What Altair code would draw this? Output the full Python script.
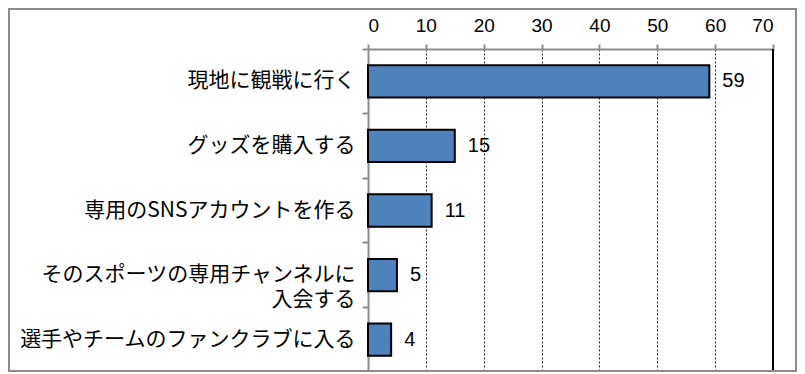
import altair as alt
import pandas as pd

categories = [
    "現地に観戦に行く",
    "グッズを購入する",
    "専用のSNSアカウントを作る",
    "そのスポーツの専用チャンネルに\n入会する",
    "選手やチームのファンクラブに入る",
]
values = [59, 15, 11, 5, 4]
x_ticks = [0, 10, 20, 30, 40, 50, 60, 70]

df = pd.DataFrame({"cat": categories, "val": values})

JP = "Noto Sans CJK JP"
NUM = "Liberation Sans"

x_scale = alt.Scale(domain=[0, 70], nice=False, zero=True)
y_scale = alt.Scale(domain=categories, paddingInner=0, paddingOuter=0)

base = alt.Chart(df)

bars = base.mark_bar(
    color="#4F81BD", stroke="black", strokeWidth=2,
    height=alt.RelativeBandSize(0.5),
).encode(
    x=alt.X("val:Q", scale=x_scale, axis=alt.Axis(
        orient="top", values=x_ticks, title=None, grid=True,
        gridDash=[2, 2], gridColor="#222", gridWidth=1,
        domainColor="#8c8c8c", domainWidth=2,
        tickColor="#8c8c8c", tickSize=5, tickWidth=2,
        labelFont=NUM, labelFontSize=19, labelColor="black",
        labelPadding=9,
    )),
    y=alt.Y("cat:N", scale=y_scale, sort=categories, axis=alt.Axis(
        title=None, grid=False, bandPosition=0,
        domainColor="#8c8c8c", domainWidth=2,
        tickColor="#8c8c8c", tickSize=6, tickWidth=2,
        labelFont=JP, labelFontSize=21, labelColor="black",
        labelPadding=7, labelLineHeight=25, labelLimit=400,
        labelExpr="split(datum.label, '\\n')",
    )),
)

labels = base.mark_text(
    align="left", baseline="middle", dx=13, font=NUM, fontSize=20, color="black",
).encode(
    x=alt.X("val:Q", scale=x_scale),
    y=alt.Y("cat:N", scale=y_scale, sort=categories),
    text=alt.Text("val:Q"),
)

right_rule = alt.Chart(pd.DataFrame({"v": [70]})).mark_rule(
    color="black", strokeWidth=2
).encode(x=alt.X("v:Q", scale=x_scale))

frame = alt.Chart(pd.DataFrame({"a": [0]})).mark_rect(
    filled=False, stroke="#8c8c8c", strokeWidth=2
).encode(
    x=alt.value(-359), x2=alt.value(428),
    y=alt.value(-40), y2=alt.value(322),
)

chart = alt.layer(right_rule, bars, labels, frame).properties(
    width=405, height=323,
    autosize=alt.AutoSizeParams(type="none"),
    padding={"left": 360, "top": 41, "right": 24, "bottom": 0},
    background="white",
).configure_view(stroke=None)

chart.save("out.html", embed_options={"renderer": "svg", "actions": False})
